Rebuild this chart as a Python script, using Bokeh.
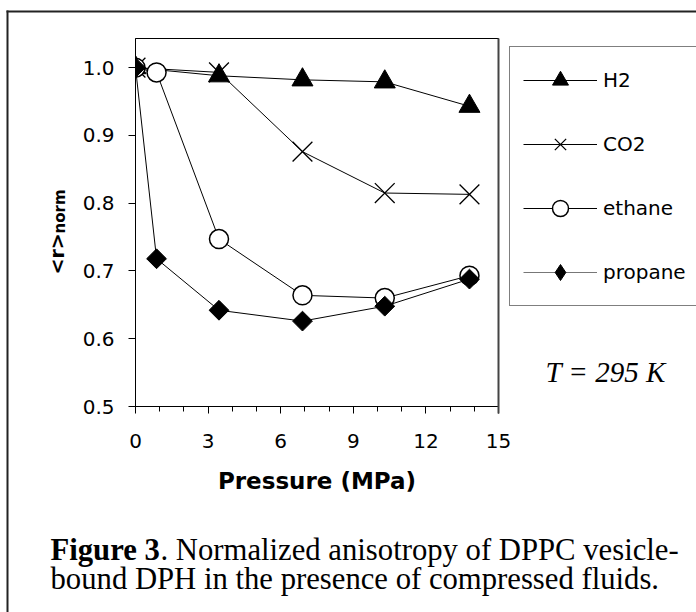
import math
from bokeh.plotting import figure
from bokeh.models import (Range1d, FixedTicker, PrintfTickFormatter, Label, Legend,
                          LegendItem, BoxAnnotation)
from bokeh.embed import file_html
from bokeh.resources import INLINE

# ---- data ----
pressure_h2 = [0, 3.45, 6.9, 10.3, 13.8]
r_h2 = [1.0, 0.988, 0.982, 0.979, 0.943]

pressure_co2 = [0, 3.45, 6.9, 10.3, 13.8]
r_co2 = [1.0, 0.993, 0.876, 0.815, 0.813]

pressure_ethane = [0, 0.87, 3.45, 6.9, 10.3, 13.8]
r_ethane = [1.0, 0.993, 0.747, 0.664, 0.660, 0.693]

pressure_propane = [0, 0.87, 3.45, 6.9, 10.3, 13.8]
r_propane = [1.0, 0.718, 0.642, 0.626, 0.648, 0.688]

series_names = ["H2", "CO2", "ethane", "propane"]
x_ticks = [0, 3, 6, 9, 12, 15]
x_minor_ticks = list(range(0, 16))
y_ticks = [0.5, 0.6, 0.7, 0.8, 0.9, 1.0]

x_label = "Pressure (MPa)"
y_label_main = "<r>"
y_label_sub = "norm"
temp_text = "T = 295 K"
caption_bold = "Figure 3"
caption_line1 = ". Normalized anisotropy of DPPC vesicle-"
caption_line2 = "bound DPH in the presence of compressed fluids."

# ---- layout (page pixels; the page template has no body margin) ----
W, H = 696, 612
FL, FR, FT, FB = 135, 498, 38, 406

# ================= main chart =================
p = figure(width=W, height=H, x_range=Range1d(0, 15), y_range=Range1d(0.5, 1.043),
           output_backend="svg", toolbar_location=None,
           min_border_left=FL, min_border_right=W - FR,
           min_border_top=FT, min_border_bottom=H - FB)
p.background_fill_color = "white"
p.border_fill_color = "white"
p.outline_line_color = "black"
p.outline_line_width = 1
p.xgrid.visible = False
p.ygrid.visible = False

for ax in (p.xaxis[0], p.yaxis[0]):
    ax.axis_line_color = "black"
    ax.major_tick_line_color = "black"
    ax.minor_tick_line_color = "black"
    ax.major_tick_in = 0
    ax.major_tick_out = 7
    ax.minor_tick_in = 0
    ax.major_label_text_font = "DejaVu Sans"
    ax.major_label_text_font_size = "20px"
    ax.major_label_text_color = "black"

p.xaxis.ticker = FixedTicker(ticks=x_ticks, minor_ticks=x_minor_ticks)
p.xaxis.minor_tick_out = 5
p.xaxis.major_label_standoff = 20
p.xaxis.axis_label = x_label
p.xaxis.axis_label_text_font = "DejaVu Sans"
p.xaxis.axis_label_text_font_style = "bold"
p.xaxis.axis_label_text_font_size = "23px"
p.xaxis.axis_label_text_color = "black"
p.xaxis.axis_label_standoff = 17

p.yaxis.ticker = FixedTicker(ticks=y_ticks, minor_ticks=[])
p.yaxis.formatter = PrintfTickFormatter(format="%.1f")
p.yaxis.minor_tick_out = 0
p.yaxis.major_label_standoff = 14


def draw_series(fig, visible=True, propane_line="black", key=False):
    l1 = fig.line(pressure_h2, r_h2, line_color="black", line_width=1, visible=visible)
    m1 = fig.scatter(pressure_h2, r_h2, marker="triangle", size=21,
                     fill_color="black", line_color="black", visible=visible)
    l2 = fig.line(pressure_co2, r_co2, line_color="black", line_width=1, visible=visible)
    m2 = fig.scatter(pressure_co2, r_co2, marker="x", size=28,
                     line_color="black", line_width=1.3, visible=visible)
    l3 = fig.line(pressure_ethane, r_ethane, line_color="black", line_width=1,
                  visible=visible)
    m3 = fig.scatter(pressure_ethane, r_ethane, marker="circle", size=19,
                     fill_color="white", line_color="black", line_width=1.5,
                     visible=visible)
    l4 = fig.line(pressure_propane, r_propane, line_color=propane_line, line_width=1,
                  visible=visible)
    if key:
        m4 = fig.scatter(pressure_propane, r_propane, marker="diamond", size=20,
                         fill_color="black", line_color="black", visible=visible)
    else:
        m4 = fig.scatter(pressure_propane, r_propane, marker="square",
                         angle=math.pi / 4, size=14, fill_color="black",
                         line_color="black", visible=visible)
    return [(l1, m1), (l2, m2), (l3, m3), (l4, m4)]


draw_series(p)

# ================= overlay (legend, notes, caption, frame) =================
# A second, transparent page root laid exactly over the chart, so that texts
# outside the chart's plot area are not clipped.
ov = figure(width=W, height=H, x_range=Range1d(0, W), y_range=Range1d(0, H),
            x_axis_type=None, y_axis_type=None,
            output_backend="svg", toolbar_location=None, min_border=0)
ov.min_border_left = 0
ov.min_border_right = 0
ov.min_border_top = 0
ov.min_border_bottom = 0
ov.background_fill_alpha = 0
ov.border_fill_alpha = 0
ov.outline_line_color = None
ov.styles = {"position": "absolute", "top": "0px", "left": "0px"}


def yy(py):
    return H - py


# legend uses hidden copies of the series (so its keys look like the chart's)
pairs = draw_series(ov, visible=False, propane_line="#777777", key=True)
legend = Legend(
    items=[LegendItem(label=name, renderers=list(pair))
           for name, pair in zip(series_names, pairs)],
    location=(509, yy(306)), orientation="vertical", padding=13, spacing=24,
    glyph_width=74, glyph_height=40, label_standoff=6, margin=0,
    border_line_color="black", border_line_width=1,
    background_fill_color="white", background_fill_alpha=1,
    inactive_fill_alpha=0,
    label_text_font="DejaVu Sans", label_text_font_size="20px",
    label_text_color="black")
ov.add_layout(legend)

# right edge of the plot area is drawn heavier in the reference
ov.add_layout(BoxAnnotation(left=497, right=499, top=yy(38), bottom=yy(413),
                            fill_color="#444444", fill_alpha=1, line_color=None))

# y axis label with subscript
ov.add_layout(Label(x=56, y=yy(274), text=y_label_main, angle=math.pi / 2,
                    text_font="DejaVu Sans", text_font_style="bold",
                    text_font_size="19px", text_align="left",
                    text_baseline="alphabetic", text_color="black"))
ov.add_layout(Label(x=59, y=yy(233), text=y_label_sub, angle=math.pi / 2,
                    text_font="DejaVu Sans", text_font_style="bold",
                    text_font_size="15px", text_align="left",
                    text_baseline="alphabetic", text_color="black"))

# temperature note
ov.add_layout(Label(x=545, y=yy(371), text=temp_text,
                    text_font="Liberation Serif", text_font_style="italic",
                    text_font_size="29px", text_align="left",
                    text_baseline="alphabetic", text_color="black"))

# caption
cap_size = 30.7
bold_w = 3.583 * cap_size
ov.add_layout(Label(x=50, y=yy(549), text=caption_bold,
                    text_font="Liberation Serif", text_font_style="bold",
                    text_font_size=f"{cap_size}px", text_align="left",
                    text_baseline="alphabetic", text_color="black"))
ov.add_layout(Label(x=50 + bold_w, y=yy(549), text=caption_line1,
                    text_font="Liberation Serif",
                    text_font_size=f"{cap_size}px", text_align="left",
                    text_baseline="alphabetic", text_color="black"))
ov.add_layout(Label(x=50, y=yy(578), text=caption_line2,
                    text_font="Liberation Serif",
                    text_font_size=f"{cap_size}px", text_align="left",
                    text_baseline="alphabetic", text_color="black"))

# outer frame (top and left edges)
ov.add_layout(BoxAnnotation(left=6, right=W, top=yy(10), bottom=yy(12),
                            fill_color="#222222", fill_alpha=1, line_color=None))
ov.add_layout(BoxAnnotation(left=6, right=8, top=yy(10), bottom=yy(H),
                            fill_color="#222222", fill_alpha=1, line_color=None))

open("out.html", "w").write(file_html([p, ov], INLINE))
